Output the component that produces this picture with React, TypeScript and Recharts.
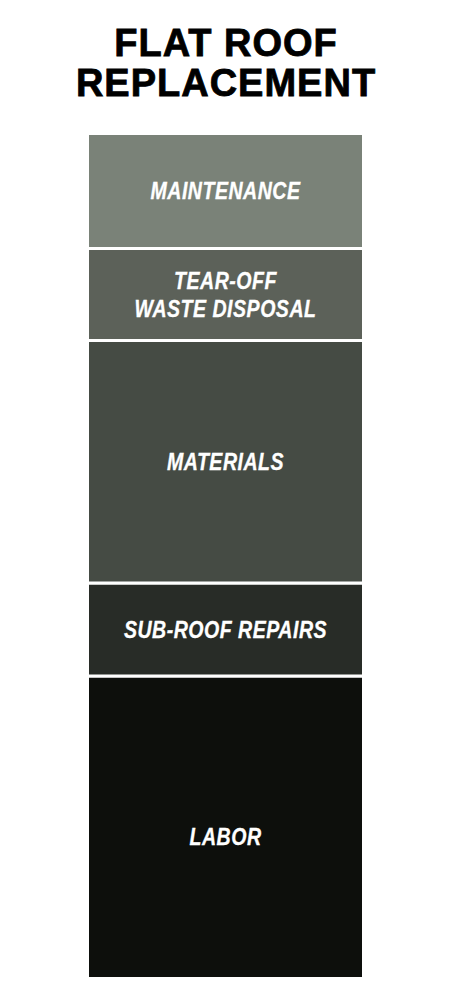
import React from 'react';
import { BarChart, Bar, XAxis, YAxis, LabelList } from 'recharts';

// Segments, bottom to top (share of total cost, %)
const segmentKeys = ['labor', 'subRoof', 'materials', 'tearOff', 'maintenance'];
const segmentLabels = ['LABOR', 'SUB-ROOF REPAIRS', 'MATERIALS', 'TEAR-OFF\nWASTE DISPOSAL', 'MAINTENANCE'];
const segmentValues = [35.8, 11.0, 28.7, 10.9, 13.6];
const segmentColors = ['#0d0f0c', '#282c27', '#454b44', '#5c6159', '#7a8278'];
const category = 'Flat Roof Replacement';
const titleLines = ['FLAT ROOF', 'REPLACEMENT'];

const row: Record<string, any> = { name: category };
segmentKeys.forEach((k, i) => {
  row[k] = segmentValues[i];
});
const data = [row];

const labelShift: Record<string, number> = { labor: 9 };

const makeLabel = (key: string, text: string) => (props: any) => {
  const { x, y, width, height } = props;
  const cx = Number(x) + Number(width) / 2;
  const top = Math.min(Number(y), Number(y) + Number(height));
  const cy = top + Math.abs(Number(height)) / 2 + (labelShift[key] || 0);
  const lines = text.split('\n');
  const lh = 28;
  const start = cy - ((lines.length - 1) * lh) / 2;
  return (
    <g>
      {lines.map((ln, i) => (
        <text
          key={i}
          transform={`translate(${cx},0) scale(0.85,1)`}
          x={0}
          y={start + i * lh + 8.5}
          textAnchor="middle"
          fill="#ffffff"
          stroke="#ffffff"
          strokeWidth={0.3}
          fontFamily="'Liberation Sans', Arial, sans-serif"
          fontWeight="bold"
          fontStyle="italic"
          fontSize={23}
          letterSpacing={0.6}
        >
          {ln}
        </text>
      ))}
    </g>
  );
};

export default function App() {
  return (
    <div style={{ position: 'absolute', left: 0, top: 0, width: 450, height: 1007, background: '#fff' }}>
      <div
        style={{
          position: 'absolute',
          left: 0,
          top: 22.8,
          width: 452,
          textAlign: 'center',
          fontFamily: "'Liberation Sans', Arial, Helvetica, sans-serif",
          fontWeight: 'bold',
          fontSize: 38,
          lineHeight: '40px',
          letterSpacing: 1.0,
          color: '#000',
          WebkitTextStroke: '0.8px #000',
        }}
      >
        {titleLines.map((t, i) => (
          <div key={i}>{t}</div>
        ))}
      </div>
      <div style={{ position: 'absolute', left: 0, top: 0 }}>
        <BarChart
          width={450}
          height={1007}
          data={data}
          margin={{ top: 133.5, right: 86.5, bottom: 28.5, left: 87.5 }}
          barCategoryGap={0}
        >
          <XAxis dataKey="name" hide />
          <YAxis hide domain={[0, 100]} />
          {segmentKeys.map((k, i) => (
            <Bar
              key={k}
              dataKey={k}
              stackId="a"
              fill={segmentColors[i]}
              stroke="#ffffff"
              strokeWidth={3}
              isAnimationActive={false}
            >
              <LabelList dataKey={k} content={makeLabel(k, segmentLabels[i])} />
            </Bar>
          ))}
        </BarChart>
      </div>
    </div>
  );
}
